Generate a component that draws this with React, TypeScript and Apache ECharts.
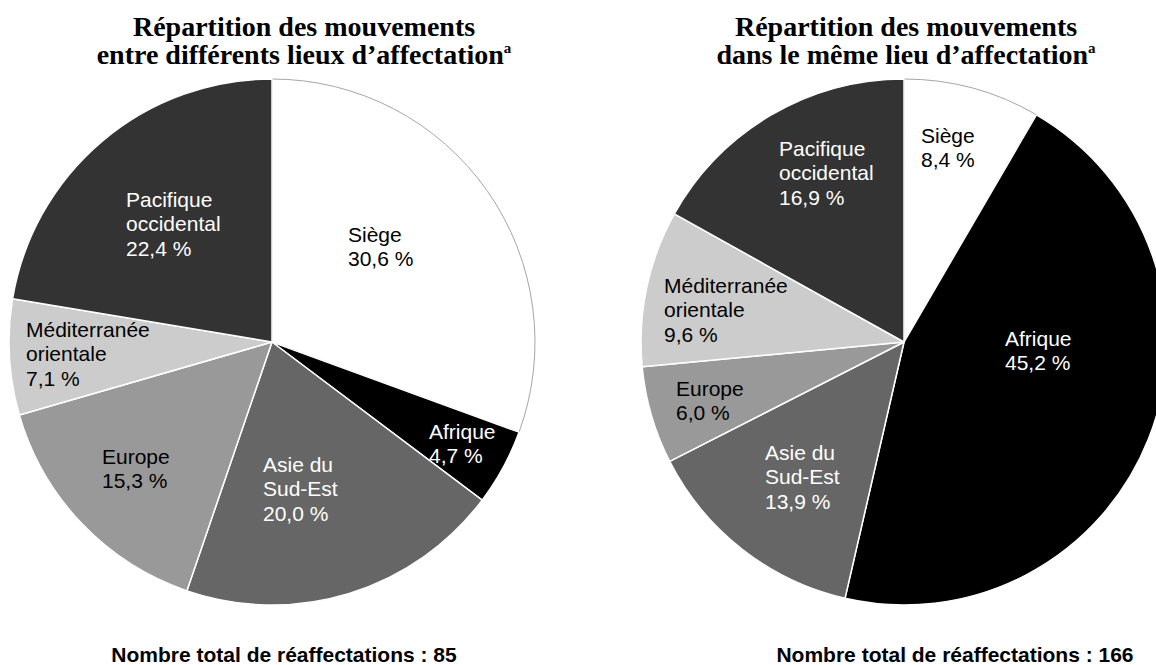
import React, { useEffect, useRef } from 'react';
import * as echarts from 'echarts';

// ---- Data ----
const CATEGORIES = ['Siège', 'Afrique', 'Asie du Sud-Est', 'Europe', 'Méditerranée orientale', 'Pacifique occidental'];
const CATEGORY_LABELS = ['Siège', 'Afrique', 'Asie du\nSud-Est', 'Europe', 'Méditerranée\norientale', 'Pacifique\noccidental'];
const BETWEEN_VALUES = [30.6, 4.7, 20.0, 15.3, 7.1, 22.4];
const WITHIN_VALUES = [8.4, 45.2, 13.9, 6.0, 9.6, 16.9];
const TOTAL_BETWEEN = 85;
const TOTAL_WITHIN = 166;
const TITLE_BETWEEN = ['Répartition des mouvements', 'entre différents lieux d\u2019affectation'];
const TITLE_WITHIN = ['Répartition des mouvements', 'dans le même lieu d\u2019affectation'];
const FOOTNOTE_MARK = 'a';
const FOOTER_TEXT = 'Nombre total de réaffectations : ';

// ---- Styles / layout ----
const SLICE_COLORS = ['#ffffff', '#000000', '#666666', '#999999', '#cccccc', '#333333'];
const LABEL_COLORS = ['#000000', '#ffffff', '#ffffff', '#000000', '#000000', '#ffffff'];
const PIE_CENTERS = [[272, 342], [904, 342]];
const PIE_RADIUS = 263;
const LABEL_OFFSETS = [
  [[76, -120], [157, 77], [-9, 110], [-170, 102], [-246, -25], [-146, -155]],
  [[17, -219], [101, -16], [-139, 98], [-228, 34], [-240, -69], [-125, -206]],
];

const fmt = (v: number) => v.toFixed(1).replace('.', ',') + ' %';

function buildData(values: number[]) {
  return values.map((v, i) => ({
    name: CATEGORIES[i],
    value: v,
    itemStyle: {
      color: SLICE_COLORS[i],
      borderColor: i === 0 ? '#a6a6a6' : '#ffffff',
      borderWidth: i === 0 ? 1 : 1.5,
    },
    label: { color: LABEL_COLORS[i] },
  }));
}

function pieSeries(values: number[], idx: number) {
  return {
    type: 'pie',
    center: PIE_CENTERS[idx],
    radius: PIE_RADIUS,
    startAngle: 90,
    clockwise: true,
    avoidLabelOverlap: false,
    silent: true,
    labelLine: { show: false },
    label: {
      show: true,
      position: 'inside',
      formatter: (p: any) => CATEGORY_LABELS[p.dataIndex] + '\n' + fmt(p.value),
      fontFamily: 'Liberation Sans, Arial, sans-serif',
      fontSize: 21,
      lineHeight: 24.5,
      textBorderWidth: 0,
    },
    labelLayout: (params: any) => {
      const s = params.seriesIndex;
      const i = params.dataIndex;
      const [cx, cy] = PIE_CENTERS[s];
      const [ox, oy] = LABEL_OFFSETS[s][i];
      return { x: cx + ox, y: cy + oy, align: 'left', verticalAlign: 'top' };
    },
    data: buildData(values),
  };
}

const titleStyle = {
  fontFamily: 'Liberation Serif, Times New Roman, serif',
  fontWeight: 'bold',
  fontSize: 28,
  lineHeight: 28,
  color: '#000',
  rich: {
    sup: {
      fontFamily: 'Liberation Serif, Times New Roman, serif',
      fontWeight: 'bold',
      fontSize: 15,
      lineHeight: 10,
      verticalAlign: 'top',
      color: '#000',
    },
  },
};

const footerStyle = {
  fontFamily: 'Liberation Sans, Arial, sans-serif',
  fontWeight: 'bold',
  fontSize: 21,
  lineHeight: 21,
  color: '#000',
};

export default function App() {
  const ref = useRef<HTMLDivElement>(null);
  useEffect(() => {
    document.body.style.margin = '0';
    if (!ref.current) return;
    const chart = echarts.init(ref.current, undefined, { renderer: 'svg' });
    chart.setOption({
      animation: false,
      backgroundColor: '#ffffff',
      title: [
        {
          text: `${TITLE_BETWEEN[0]}\n${TITLE_BETWEEN[1]}{sup|${FOOTNOTE_MARK}}`,
          left: 304, top: 12, textAlign: 'center', padding: 0,
          textStyle: titleStyle,
        },
        {
          text: `${TITLE_WITHIN[0]}\n${TITLE_WITHIN[1]}{sup|${FOOTNOTE_MARK}}`,
          left: 906, top: 12, textAlign: 'center', padding: 0,
          textStyle: titleStyle,
        },
        {
          text: FOOTER_TEXT + TOTAL_BETWEEN,
          left: 284, top: 644, textAlign: 'center', padding: 0,
          textStyle: footerStyle,
        },
        {
          text: FOOTER_TEXT + TOTAL_WITHIN,
          left: 955, top: 644, textAlign: 'center', padding: 0,
          textStyle: footerStyle,
        },
      ],
      series: [pieSeries(BETWEEN_VALUES, 0), pieSeries(WITHIN_VALUES, 1)],
    });
    return () => chart.dispose();
  }, []);
  return (
    <div
      ref={ref}
      style={{ position: 'absolute', left: 0, top: 0, width: 1156, height: 665, background: '#fff' }}
    />
  );
}
